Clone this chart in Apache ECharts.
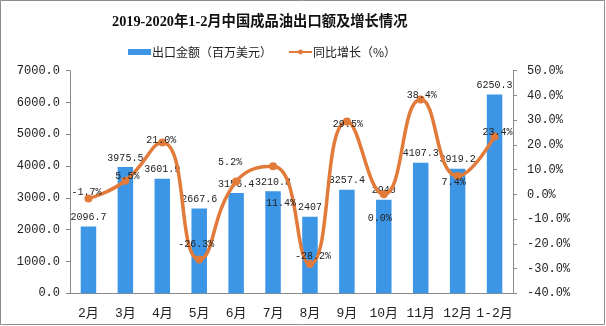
<!DOCTYPE html>
<html>
<head>
<meta charset="utf-8">
<script src="https://cdn.jsdelivr.net/npm/echarts@6/dist/echarts.min.js"></script>
<style>
html,body{margin:0;padding:0;background:#fff;}
#chart{width:606px;height:326px;}
</style>
</head>
<body>
<div id="chart"></div>
<script>
const titleText = '2019-2020年1-2月中国成品油出口额及增长情况';
const categories = ['2月','3月','4月','5月','6月','7月','8月','9月','10月','11月','12月','1-2月'];
const exportValues = [2096.7, 3975.5, 3601.9, 2667.6, 3156.4, 3210.8, 2407, 3257.4, 2940, 4107.3, 3919.2, 6250.3];
const growthValues = [-1.7, 5.5, 21.0, -26.3, 5.2, 11.4, -28.2, 29.5, 0.0, 38.4, 7.4, 23.4];
const seriesNames = ['出口金额（百万美元）', '同比增长（%）'];

// label nudges (style only)
const lineLabelShift = [[-2,-6],[2,-4],[-1,-2],[-3,-15],[-6,-19],[8,37],[3,-8],[1,3],[-4,24],[1,-4],[-4,6],[3,-4]];

const mono = "'Liberation Mono','Noto Sans CJK SC',monospace";
const chart = echarts.init(document.getElementById('chart'));

const lineData = growthValues.map((v, i) => ({
  value: v,
  label: { offset: lineLabelShift[i] }
}));

chart.setOption({
  animation: false,
  backgroundColor: '#fff',
  title: {
    text: titleText,
    left: 112, top: 15, padding: 0,
    textStyle: { fontSize: 14.3, fontWeight: 'bold', color: '#111', fontFamily: "'Liberation Serif','Noto Sans CJK SC',serif" }
  },
  legend: {
    left: 128, top: 46, padding: 0,
    itemWidth: 23, itemHeight: 6, itemGap: 16,
    textStyle: { fontSize: 12, color: '#222', fontFamily: "'Noto Sans CJK SC',sans-serif", padding: [0,0,0,-4] },
    data: [
      { name: seriesNames[0], icon: 'rect' },
      { name: seriesNames[1] }
    ]
  },
  grid: { left: 70, right: 93, top: 70.7, bottom: 32.7 },
  xAxis: {
    type: 'category',
    data: categories,
    axisLine: { lineStyle: { color: '#8a8a8a', width: 1 } },
    axisTick: { length: 4, lineStyle: { color: '#8a8a8a' } },
    axisLabel: { margin: 14, fontSize: 13, color: '#222', fontFamily: mono, interval: 0 }
  },
  yAxis: [
    {
      type: 'value', min: 0, max: 7000, interval: 1000,
      splitLine: { show: false },
      axisLine: { show: true, lineStyle: { color: '#8a8a8a' } },
      axisTick: { show: true, length: 4, lineStyle: { color: '#8a8a8a' } },
      axisLabel: { margin: 10, fontSize: 12, color: '#222', fontFamily: mono, formatter: v => v.toFixed(1) }
    },
    {
      type: 'value', min: -40, max: 50, interval: 10,
      splitLine: { show: false },
      axisLine: { show: true, lineStyle: { color: '#8a8a8a' } },
      axisTick: { show: true, length: 4, lineStyle: { color: '#8a8a8a' } },
      axisLabel: { margin: 14, fontSize: 12, color: '#222', fontFamily: mono, formatter: v => v.toFixed(1) + '%' }
    }
  ],
  series: [
    {
      name: seriesNames[0],
      type: 'bar',
      data: exportValues,
      barWidth: 15.5,
      itemStyle: { color: '#3d95e6' },
      label: { show: true, position: 'top', distance: 4, fontSize: 10, color: '#222', fontFamily: mono }
    },
    {
      name: seriesNames[1],
      type: 'line',
      yAxisIndex: 1,
      data: lineData,
      smooth: 0.5,
      symbol: 'circle',
      symbolSize: 8,
      z: 5,
      lineStyle: { color: '#e27a3a', width: 3.5 },
      itemStyle: { color: '#e27a3a' },
      label: { show: true, position: 'inside', fontSize: 10, color: '#222', fontFamily: mono, formatter: p => p.value.toFixed(1) + '%' }
    }
  ],
  graphic: [
    { type: 'rect', shape: { x: 0.5, y: 0.5, width: 604, height: 324 }, style: { fill: 'none', stroke: '#8c8c8c', lineWidth: 1 }, silent: true }
  ]
});
</script>
</body>
</html>
